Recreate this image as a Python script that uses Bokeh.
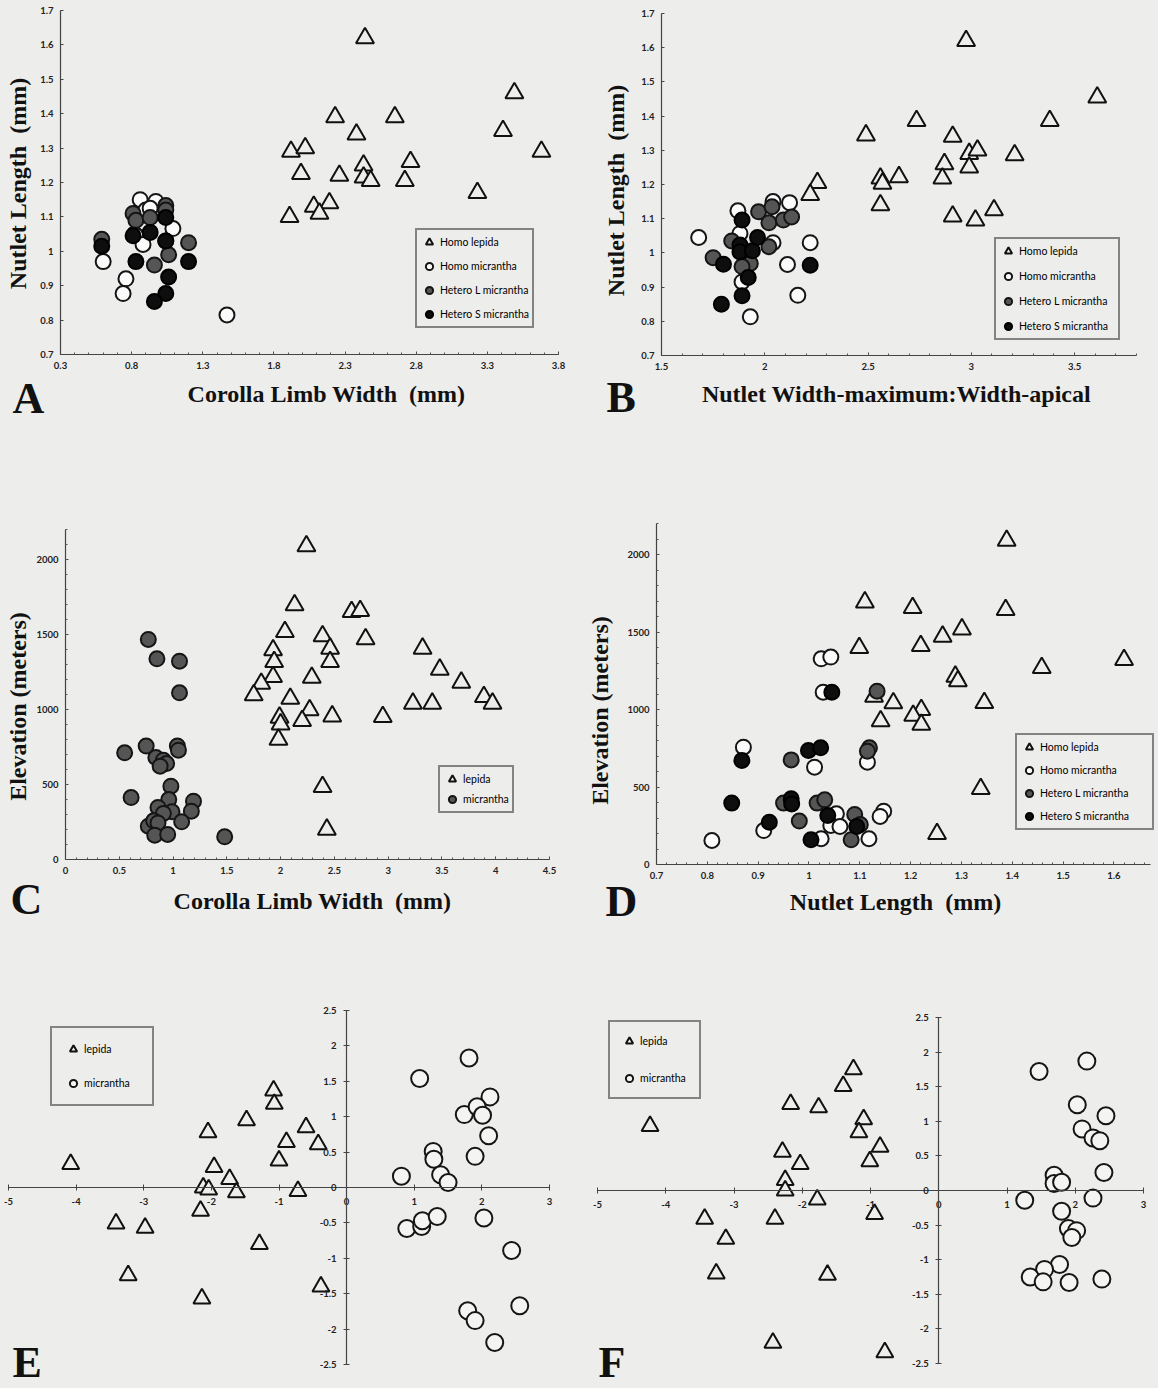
import math
from bokeh.plotting import figure
from bokeh.models import (Range1d, FixedTicker, CustomJSTickFormatter, Label,
                          Legend, LegendItem)
from bokeh.layouts import column, row
from bokeh.embed import file_html
from bokeh.resources import INLINE

BG = "#ededeb"

# ---------------- Panel A : Corolla limb width vs nutlet length ----------------
a_lep_x = [2.44, 3.49, 2.23, 2.65, 2.38, 3.41, 1.92, 2.02, 3.68, 2.43, 2.76, 1.99,
           2.26, 2.43, 2.48, 2.72, 3.23, 2.19, 2.08, 2.12, 1.91]
a_lep_y = [1.62, 1.46, 1.39, 1.39, 1.34, 1.35, 1.29, 1.30, 1.29, 1.25, 1.26, 1.225,
           1.22, 1.215, 1.205, 1.205, 1.17, 1.14, 1.13, 1.11, 1.10]
a_hmic_x = [0.86, 0.97, 0.90, 0.93, 1.09, 0.82, 0.83, 0.88, 1.04, 0.60, 0.76, 0.74, 1.47]
a_hmic_y = [1.15, 1.145, 1.12, 1.125, 1.066, 1.05, 1.046, 1.02, 1.03, 0.97, 0.92, 0.877, 0.815]
a_hl_x = [0.59, 0.81, 0.83, 0.93, 1.04, 1.04, 1.20, 1.06, 0.96]
a_hl_y = [1.035, 1.11, 1.09, 1.098, 1.133, 1.12, 1.025, 0.99, 0.96]
a_hs_x = [0.59, 0.81, 0.93, 1.04, 1.04, 0.83, 1.20, 1.06, 1.04, 0.96]
a_hs_y = [1.015, 1.045, 1.055, 1.098, 1.03, 0.97, 0.97, 0.925, 0.877, 0.854]

# ---------------- Panel B : width ratio vs nutlet length ----------------
b_lep_x = [2.975, 3.61, 2.735, 3.38, 2.49, 2.91, 2.99, 3.03, 3.21, 2.87, 2.99, 2.56,
           2.57, 2.65, 2.86, 2.255, 2.22, 2.56, 2.91, 3.02, 3.11]
b_lep_y = [1.62, 1.455, 1.386, 1.386, 1.344, 1.34, 1.29, 1.30, 1.286, 1.26, 1.25, 1.218,
           1.203, 1.222, 1.218, 1.205, 1.17, 1.14, 1.107, 1.095, 1.125]
b_hmic_x = [1.68, 1.87, 2.04, 2.12, 1.88, 2.04, 2.22, 2.11, 1.89, 2.16, 1.93]
b_hmic_y = [1.045, 1.123, 1.15, 1.147, 1.057, 1.03, 1.03, 0.966, 0.915, 0.876, 0.813]
b_hl_x = [1.75, 1.84, 1.97, 2.035, 2.02, 2.09, 2.13, 2.02, 1.93, 1.89]
b_hl_y = [0.986, 1.035, 1.12, 1.135, 1.088, 1.096, 1.105, 1.018, 0.969, 0.96]
b_hs_x = [1.79, 1.80, 1.89, 1.88, 1.88, 1.94, 1.965, 1.92, 1.89, 2.22]
b_hs_y = [0.85, 0.967, 1.096, 1.023, 1.003, 1.006, 1.045, 0.928, 0.875, 0.964]

# ---------------- Panel C : corolla limb width vs elevation ----------------
c_lep_x = [2.24, 2.13, 2.66, 2.74, 2.04, 2.39, 2.79, 2.46, 3.32, 1.93, 1.94, 2.46,
           3.48, 1.93, 2.29, 3.68, 1.82, 1.75, 2.09, 3.89, 3.97, 3.23, 3.41, 2.27,
           1.99, 2.00, 2.20, 2.48, 2.95, 1.98, 2.39, 2.43]
c_lep_y = [2089, 1696, 1651, 1658, 1518, 1489, 1469, 1407, 1407, 1396, 1318, 1318,
           1267, 1218, 1213, 1180, 1173, 1096, 1073, 1084, 1040, 1040, 1040, 996,
           947, 902, 924, 955, 951, 800, 484, 200]
c_mic_x = [0.77, 0.85, 1.06, 1.06, 0.55, 0.75, 1.04, 1.05, 0.84, 0.91, 0.94, 0.88,
           0.98, 0.61, 0.96, 1.19, 0.86, 0.99, 1.17, 0.91, 1.08, 0.77, 0.82, 0.86,
           0.83, 0.95, 1.48]
c_mic_y = [1467, 1338, 1322, 1111, 711, 756, 756, 729, 680, 662, 640, 622,
           489, 413, 400, 389, 347, 318, 322, 307, 251, 222, 258, 244,
           162, 167, 151]

# ---------------- Panel D : nutlet length vs elevation ----------------
d_lep_x = [1.389, 1.110, 1.204, 1.387, 1.301, 1.263, 1.099, 1.220, 1.620, 1.458, 1.288,
           1.293, 1.128, 1.166, 1.345, 1.221, 1.205, 1.221, 1.141, 1.338, 1.252]
d_lep_y = [2090, 1692, 1656, 1643, 1518, 1471, 1398, 1411, 1320, 1269, 1213,
           1183, 1084, 1041, 1043, 998, 961, 903, 925, 488, 198]
d_hmic_x = [1.024, 1.043, 1.028, 0.871, 1.011, 1.115, 0.809, 0.911, 1.024, 1.054,
            1.043, 1.061, 1.147, 1.140, 1.118]
d_hmic_y = [1327, 1338, 1112, 757, 628, 660, 155, 219, 166, 327, 252, 245, 344, 310, 166]
d_hl_x = [1.134, 1.119, 1.115, 0.965, 0.950, 1.016, 1.031, 0.981, 1.090, 1.083, 1.101]
d_hl_y = [1118, 753, 731, 675, 396, 396, 417, 280, 323, 159, 258]
d_hs_x = [1.045, 0.868, 0.999, 1.023, 0.848, 0.965, 0.966, 0.922, 1.037, 1.004, 1.094]
d_hs_y = [1112, 671, 735, 753, 396, 424, 391, 273, 316, 159, 245]

# ---------------- Panel E : ordination ----------------
e_lep_x = [-4.08, -3.41, -2.98, -3.23, -2.14, -2.16, -2.05, -2.12, -2.04, -1.96, -1.73,
           -1.63, -1.48, -1.29, -1.08, -1.07, -1.00, -0.89, -0.60, -0.72, -0.42, -0.38]
e_lep_y = [0.33, -0.51, -0.57, -1.24, -1.57, -0.33, 0.78, 0.0, -0.03, 0.29, 0.12,
           -0.07, 0.95, -0.80, 1.37, 1.18, 0.38, 0.64, 0.85, -0.05, 0.61, -1.40]
e_mic_x = [1.81, 1.08, 2.12, 1.74, 1.93, 2.01, 2.10, 1.90, 1.28, 1.29, 0.81, 1.39,
           1.50, 0.89, 1.11, 1.12, 1.34, 2.03, 2.44, 2.56, 1.79, 1.90, 2.19]
e_mic_y = [1.83, 1.54, 1.28, 1.03, 1.14, 1.02, 0.73, 0.44, 0.51, 0.40, 0.16, 0.18,
           0.07, -0.58, -0.55, -0.47, -0.41, -0.43, -0.89, -1.67, -1.74, -1.88, -2.19]

# ---------------- Panel F : ordination ----------------
f_lep_x = [-4.23, -1.25, -1.40, -2.17, -1.76, -1.10, -1.17, -0.86, -2.29, -2.03, -1.01,
           -2.25, -2.25, -1.78, -3.43, -2.40, -0.94, -3.12, -3.26, -1.63, -2.43, -0.79]
f_lep_y = [0.93, 1.75, 1.51, 1.25, 1.20, 1.03, 0.84, 0.63, 0.56, 0.38, 0.42,
           0.15, 0.0, -0.13, -0.41, -0.41, -0.34, -0.70, -1.20, -1.22, -2.20, -2.34]
f_mic_x = [2.17, 1.47, 2.03, 2.45, 2.10, 2.26, 2.36, 2.42, 1.69, 1.69, 1.80, 1.26,
           2.26, 1.80, 1.90, 2.02, 1.95, 1.77, 1.55, 1.34, 1.53, 1.91, 2.39]
f_mic_y = [1.87, 1.72, 1.24, 1.08, 0.89, 0.76, 0.72, 0.26, 0.22, 0.10, 0.12, -0.14,
           -0.11, -0.30, -0.55, -0.58, -0.68, -1.07, -1.14, -1.25, -1.32, -1.33, -1.28]

LEG4 = ["Homo lepida", "Homo micrantha", "Hetero L micrantha", "Hetero S micrantha"]
LEG2 = ["lepida", "micrantha"]

TICK_FMT = "return String(Math.round(tick*1000)/1000);"


def frange(a, b, step):
    n = int(round((b - a) / step))
    return [round(a + i * step, 6) for i in range(n + 1)]


def make_panel(fw, fh, ox, oy, frame, xr, yr, xaxis_at, yaxis_at):
    """Frame covers the whole figure; the visible axes sit at fixed data
    locations with bounds, so every text can live inside the frame."""
    L, T, R, B = frame
    sx = (xr[1] - xr[0]) / (R - L)
    sy = (yr[1] - yr[0]) / (B - T)
    X0 = xr[0] - (L - ox) * sx
    X1 = xr[1] + (ox + fw - R) * sx
    Y0 = yr[0] - (oy + fh - B) * sy
    Y1 = yr[1] + (T - oy) * sy
    p = figure(width=fw, height=fh, x_range=Range1d(X0, X1), y_range=Range1d(Y0, Y1),
               output_backend="svg", toolbar_location=None,
               min_border_left=0, min_border_top=0,
               min_border_right=0, min_border_bottom=0,
               background_fill_color=BG, border_fill_color=BG,
               outline_line_color=None)
    p.grid.visible = False
    p.xaxis[0].fixed_location = xaxis_at
    p.yaxis[0].fixed_location = yaxis_at
    p.xaxis[0].bounds = (xr[0], xr[1])
    p.yaxis[0].bounds = (yr[0], yr[1])

    def conv(px, py):
        return X0 + (px - ox) * sx, Y1 - (py - oy) * sy

    def loc(left, bottom):
        return (left - ox, oy + fh - bottom)
    return p, conv, loc


def style_axis(ax, ticks, minor, tick_in=3, tick_out=0):
    ax.ticker = FixedTicker(ticks=ticks, minor_ticks=minor)
    ax.formatter = CustomJSTickFormatter(code=TICK_FMT)
    ax.major_label_text_font = "Lato"
    ax.major_label_text_font_style = "bold"
    ax.major_label_text_font_size = "9.5px"
    ax.major_label_text_color = "#222222"
    ax.major_label_standoff = 7
    ax.axis_line_color = "#444444"
    ax.axis_line_width = 1.2
    ax.major_tick_line_color = "#444444"
    ax.minor_tick_line_color = "#555555"
    ax.major_tick_in = tick_in
    ax.major_tick_out = tick_out
    ax.minor_tick_in = 2 if tick_in else 0
    ax.minor_tick_out = 2 if tick_out else 0


def add_text(p, conv, px, py, text, size, align="left", angle=0.0,
             baseline="alphabetic"):
    if baseline == "alphabetic":
        py = py - 0.35 * size   # compensate the renderer's baseline offset
    x, y = conv(px, py)
    p.add_layout(Label(x=x, y=y, text=text, text_font="Liberation Serif",
                       text_font_style="bold", text_font_size=f"{size}px",
                       text_color="#111111", text_align=align,
                       text_baseline=baseline, angle=angle))


def tri(p, xs, ys, size=18):
    return p.scatter(xs, ys, marker="triangle", size=size, fill_color=BG,
                     line_color="#111111", line_width=2)


def circ(p, xs, ys, fill, size=15, line="#151515"):
    return p.scatter(xs, ys, marker="circle", size=size, fill_color=fill,
                     line_color=line, line_width=2)


def add_legend(p, renderers, labels, loc, pad, spacing, lw):
    items = [LegendItem(label=lab, renderers=[r]) for lab, r in zip(labels, renderers)]
    leg = Legend(items=items, location=loc, padding=pad, spacing=spacing,
                 margin=0, glyph_width=18, glyph_height=18, label_height=14,
                 label_standoff=2, label_width=lw,
                 label_text_font="Lato", label_text_font_size="10.5px",
                 label_text_color="#000000",
                 border_line_color="#1a1a1a", border_line_width=2,
                 background_fill_color=BG, background_fill_alpha=1.0)
    p.add_layout(leg)


HTITLE = 24
HLETTER = 44
NB = "\u00a0"

# ======================= Row 1 =======================
pA, cA, lA = make_panel(588, 424, 0, 0, (60, 10, 558, 354), (0.3, 3.8), (0.7, 1.7), 0.7, 0.3)
style_axis(pA.xaxis[0], frange(0.3, 3.8, 0.5), frange(0.3, 3.8, 0.1))
style_axis(pA.yaxis[0], frange(0.7, 1.7, 0.1), [])
rA1 = tri(pA, a_lep_x, a_lep_y)
rA2 = circ(pA, a_hmic_x, a_hmic_y, "#fbfbfb")
rA3 = circ(pA, a_hl_x, a_hl_y, "#555555")
rA4 = circ(pA, a_hs_x, a_hs_y, "#0e0e0e", line="#000000")
add_legend(pA, [rA1, rA2, rA3, rA4], LEG4, lA(415, 328), 3, 6, 89)
add_text(pA, cA, 326, 402, f"Corolla Limb Width {NB}(mm)", HTITLE, align="center")
add_text(pA, cA, 17, 183, f"Nutlet Length {NB}(mm)", HTITLE, align="center",
         angle=math.pi / 2, baseline="middle")
add_text(pA, cA, 12, 413, "A", HLETTER)

pB, cB, lB = make_panel(570, 424, 588, 0, (661, 13, 1136, 355), (1.5, 3.8), (0.7, 1.7), 0.7, 1.5)
style_axis(pB.xaxis[0], frange(1.5, 3.5, 0.5), frange(1.5, 3.8, 0.1))
style_axis(pB.yaxis[0], frange(0.7, 1.7, 0.1), [])
rB1 = tri(pB, b_lep_x, b_lep_y)
rB2 = circ(pB, b_hmic_x, b_hmic_y, "#fbfbfb")
rB3 = circ(pB, b_hl_x, b_hl_y, "#555555")
rB4 = circ(pB, b_hs_x, b_hs_y, "#0e0e0e", line="#000000")
add_legend(pB, [rB1, rB2, rB3, rB4], LEG4, lB(994, 340), 3, 7, 96)
add_text(pB, cB, 896, 402, "Nutlet Width-maximum:Width-apical", HTITLE, align="center")
add_text(pB, cB, 615, 190, f"Nutlet Length {NB}(mm)", HTITLE, align="center",
         angle=math.pi / 2, baseline="middle")
add_text(pB, cB, 606, 412, "B", HLETTER)

# ======================= Row 2 =======================
pC, cC, lC = make_panel(588, 510, 0, 424, (65, 529, 549, 859), (0, 4.5), (0, 2200), 0, 0)
style_axis(pC.xaxis[0], frange(0, 4.5, 0.5), frange(0, 4.5, 0.1))
style_axis(pC.yaxis[0], frange(0, 2000, 500), frange(0, 2200, 100))
rC1 = tri(pC, c_lep_x, c_lep_y)
rC2 = circ(pC, c_mic_x, c_mic_y, "#555555")
add_legend(pC, [rC1, rC2], LEG2, lC(438, 813), 3, 2, 40)
add_text(pC, cC, 312, 909, f"Corolla Limb Width {NB}(mm)", HTITLE, align="center")
add_text(pC, cC, 17, 706, "Elevation (meters)", HTITLE, align="center",
         angle=math.pi / 2, baseline="middle")
add_text(pC, cC, 10, 914, "C", HLETTER)

pD, cD, lD = make_panel(570, 510, 588, 424, (656, 523, 1150, 864), (0.7, 1.672), (0, 2200), 0, 0.7)
style_axis(pD.xaxis[0], frange(0.7, 1.6, 0.1), frange(0.7, 1.66, 0.02))
style_axis(pD.yaxis[0], frange(0, 2000, 500), frange(0, 2200, 100))
rD1 = tri(pD, d_lep_x, d_lep_y)
rD2 = circ(pD, d_hmic_x, d_hmic_y, "#fbfbfb")
rD3 = circ(pD, d_hl_x, d_hl_y, "#555555")
rD4 = circ(pD, d_hs_x, d_hs_y, "#0e0e0e", line="#000000")
add_legend(pD, [rD1, rD2, rD3, rD4], LEG4, lD(1015, 830), 3, 5, 109)
add_text(pD, cD, 895, 910, f"Nutlet Length {NB}(mm)", HTITLE, align="center")
add_text(pD, cD, 599, 710, "Elevation (meters)", HTITLE, align="center",
         angle=math.pi / 2, baseline="middle")
add_text(pD, cD, 605, 916, "D", HLETTER)

# ======================= Row 3 =======================
pE, cE, lE = make_panel(588, 454, 0, 934, (8, 1010, 549, 1364), (-5, 3), (-2.5, 2.5), 0, 0)
style_axis(pE.xaxis[0], frange(-5, 3, 1), [], tick_in=3, tick_out=3)
style_axis(pE.yaxis[0], frange(-2.5, 2.5, 0.5), [], tick_in=3, tick_out=3)
rE1 = tri(pE, e_lep_x, e_lep_y, size=17)
rE2 = circ(pE, e_mic_x, e_mic_y, "#f4f4f2", size=17)
add_legend(pE, [rE1, rE2], LEG2, lE(50, 1106), 12, 16, 56)
add_text(pE, cE, 12, 1377, "E", HLETTER)

pF, cF, lF = make_panel(570, 454, 588, 934, (597, 1017, 1143, 1363), (-5, 3), (-2.5, 2.5), 0, 0)
style_axis(pF.xaxis[0], frange(-5, 3, 1), [], tick_in=3, tick_out=3)
style_axis(pF.yaxis[0], frange(-2.5, 2.5, 0.5), [], tick_in=3, tick_out=3)
rF1 = tri(pF, f_lep_x, f_lep_y, size=17)
rF2 = circ(pF, f_mic_x, f_mic_y, "#f4f4f2", size=17)
add_legend(pF, [rF1, rF2], LEG2, lF(608, 1099), 10, 19, 49)
add_text(pF, cF, 598, 1377, "F", HLETTER)

layout = column(row(pA, pB, styles={"background-color": BG}),
                row(pC, pD, styles={"background-color": BG}),
                row(pE, pF, styles={"background-color": BG}),
                styles={"background-color": BG})

with open("out.html", "w") as fh:
    fh.write(file_html(layout, INLINE))
